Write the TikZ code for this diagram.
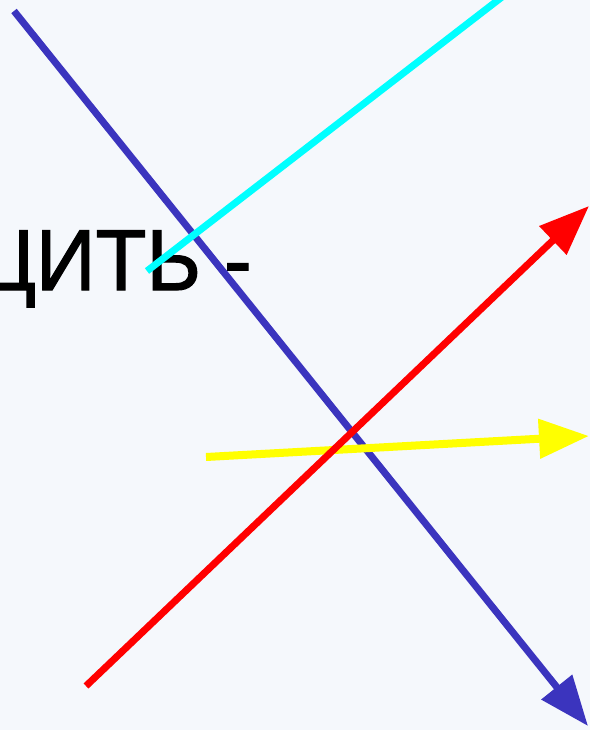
\documentclass[tikz,border=0pt]{standalone}
\usepackage{fontspec}
\setmainfont{Liberation Sans}
\newfontfamily\wordfont[FakeBold=1.4, FakeStretch=0.96]{Liberation Sans}
\usepackage{tikz}
\usetikzlibrary{arrows.meta}
\definecolor{bgpale}{HTML}{F5F8FC}
\definecolor{rayblue}{HTML}{3B34BE}
\definecolor{raycyan}{HTML}{00FFFF}
\definecolor{rayred}{HTML}{FF0000}
\definecolor{rayyellow}{HTML}{FFFF00}
\tikzset{
  ray/.style       = {line width=7pt, line cap=butt},
  rayarrow/.style  = {ray, -{Triangle[length=50pt, width=38pt]}},
  word/.style      = {font=\wordfont\fontsize{86.6pt}{90pt}\selectfont, inner sep=0pt, text=black},
}
\begin{document}
\begin{tikzpicture}[x=1pt, y=-1pt]
  \fill[bgpale] (0,0) rectangle (590,730);
  \useasboundingbox (0,0) rectangle (590,730);
  \clip (0,0) rectangle (590,730);
  \node[word, anchor=base east] (txt) at (252,290) {ЦИТЬ -};
  % end points of the rays
  \coordinate (bluefrom) at (14,11);
  \coordinate (blueto)   at (588,726);
  \coordinate (cyanfrom) at (147,271);
  \coordinate (cyanto)   at (502,-3);
  \coordinate (yelfrom)  at (206,457);
  \coordinate (yelto)    at (589,436);
  \coordinate (redfrom)  at (86,686);
  \coordinate (redto)    at (589,206);
  \draw[rayarrow, rayblue] (bluefrom) -- (blueto);
  \draw[ray, raycyan] (cyanfrom) -- (cyanto);
  \draw[rayarrow, rayyellow, line width=8pt] (yelfrom) -- (yelto);
  \draw[rayarrow, rayred] (redfrom) -- (redto);
\end{tikzpicture}
\end{document}
